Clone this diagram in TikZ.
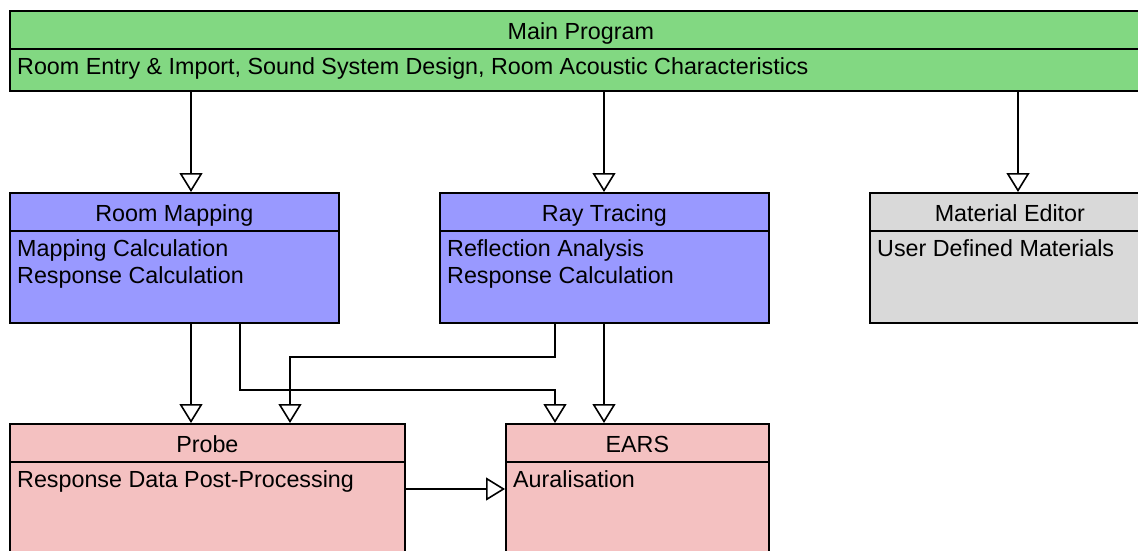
\documentclass[tikz,border=0pt]{standalone}
\usepackage{fontspec}
\setmainfont{Liberation Sans}
\usetikzlibrary{arrows.meta,calc}
\definecolor{cgreen}{RGB}{130,216,130}
\definecolor{cblue}{RGB}{153,153,255}
\definecolor{cgray}{RGB}{217,217,217}
\definecolor{cpink}{RGB}{244,193,193}
\tikzset{
  box/.style={draw=black, line width=1.7pt, anchor=north west, inner sep=0pt},
  ttl/.style={anchor=base, inner sep=0pt, font=\fontsize{23.3}{27}\selectfont},
  txt/.style={anchor=base west, inner sep=0pt, font=\fontsize{23.3}{27}\selectfont},
  divider/.style={draw=black, line width=1.7pt},
  arr/.style={draw=black, line width=1.6pt, -{Triangle[length=19pt,width=23pt,fill=white,line width=1.6pt]}},
}
\begin{document}
\begin{tikzpicture}[x=1pt,y=-1pt]
\useasboundingbox (0,0) rectangle (1138,550);
\clip (0,0) rectangle (1138,550);
% boxes
\node[box, fill=cgreen, minimum width=1142pt, minimum height=80pt] (main) at (9,10) {};
\node[box, fill=cblue, minimum width=329pt, minimum height=130pt] (rm) at (9,192) {};
\node[box, fill=cblue, minimum width=329pt, minimum height=130pt] (rt) at (439,192) {};
\node[box, fill=cgray, minimum width=280pt, minimum height=130pt] (me) at (869,192) {};
\node[box, fill=cpink, minimum width=395pt, minimum height=160pt] (pr) at (9,423) {};
\node[box, fill=cpink, minimum width=263pt, minimum height=160pt] (ea) at (505,423) {};
% dividers
\draw[divider] ($(main.north west)+(0,39)$) -- ($(main.north east)+(0,39)$);
\draw[divider] ($(rm.north west)+(0,39)$) -- ($(rm.north east)+(0,39)$);
\draw[divider] ($(rt.north west)+(0,39)$) -- ($(rt.north east)+(0,39)$);
\draw[divider] ($(me.north west)+(0,39)$) -- ($(me.north east)+(0,39)$);
\draw[divider] ($(pr.north west)+(0,39)$) -- ($(pr.north east)+(0,39)$);
\draw[divider] ($(ea.north west)+(0,39)$) -- ($(ea.north east)+(0,39)$);
% titles
\node[ttl] (mainT) at ($(main.north)+(0,29)$) {Main Program};
\node[ttl] (rmT) at ($(rm.north)+(0,29)$) {Room Mapping};
\node[ttl] (rtT) at ($(rt.north)+(0,29)$) {Ray Tracing};
\node[ttl] (meT) at ($(me.north)+(0,29)$) {Material Editor};
\node[ttl] (prT) at ($(pr.north)+(0,29)$) {Probe};
\node[ttl] (eaT) at ($(ea.north)+(0,29)$) {EARS};
% bodies
\node[txt] (mainB) at ($(main.north west)+(8,64)$) {Room Entry \& Import, Sound System Design, Room Acoustic Characteristics};
\node[txt] (rmB1) at ($(rm.north west)+(8,64)$) {Mapping Calculation};
\node[txt] (rmB2) at ($(rm.north west)+(8,91)$) {Response Calculation};
\node[txt] (rtB1) at ($(rt.north west)+(8,64)$) {Reflection Analysis};
\node[txt] (rtB2) at ($(rt.north west)+(8,91)$) {Response Calculation};
\node[txt] (meB) at ($(me.north west)+(8,64)$) {User Defined Materials};
\node[txt] (prB) at ($(pr.north west)+(8,64)$) {Response Data Post-Processing};
\node[txt] (eaB) at ($(ea.north west)+(8,64)$) {Auralisation};
% connector x positions
\coordinate (x1) at (191,0);
\coordinate (x2) at (604,0);
\coordinate (x3) at (1018,0);
\coordinate (x4) at (240,0);
\coordinate (x5) at (555,0);
\coordinate (x6) at (290,0);
\coordinate (y1) at (0,357);
\coordinate (y2) at (0,390);
\coordinate (y3) at (0,489);
% connectors
\draw[arr] (main.south -| x1) -- (rm.north -| x1);
\draw[arr] (main.south -| x2) -- (rt.north -| x2);
\draw[arr] (main.south -| x3) -- (me.north -| x3);
\draw[arr] (rm.south -| x1) -- (pr.north -| x1);
\draw[arr] (rm.south -| x4) -- (y2 -| x4) -- (y2 -| x5) -- (ea.north -| x5);
\draw[arr] (rt.south -| x5) -- (y1 -| x5) -- (y1 -| x6) -- (pr.north -| x6);
\draw[arr] (rt.south -| x2) -- (ea.north -| x2);
\draw[arr] (pr.east |- y3) -- (ea.west |- y3);
\end{tikzpicture}
\end{document}
